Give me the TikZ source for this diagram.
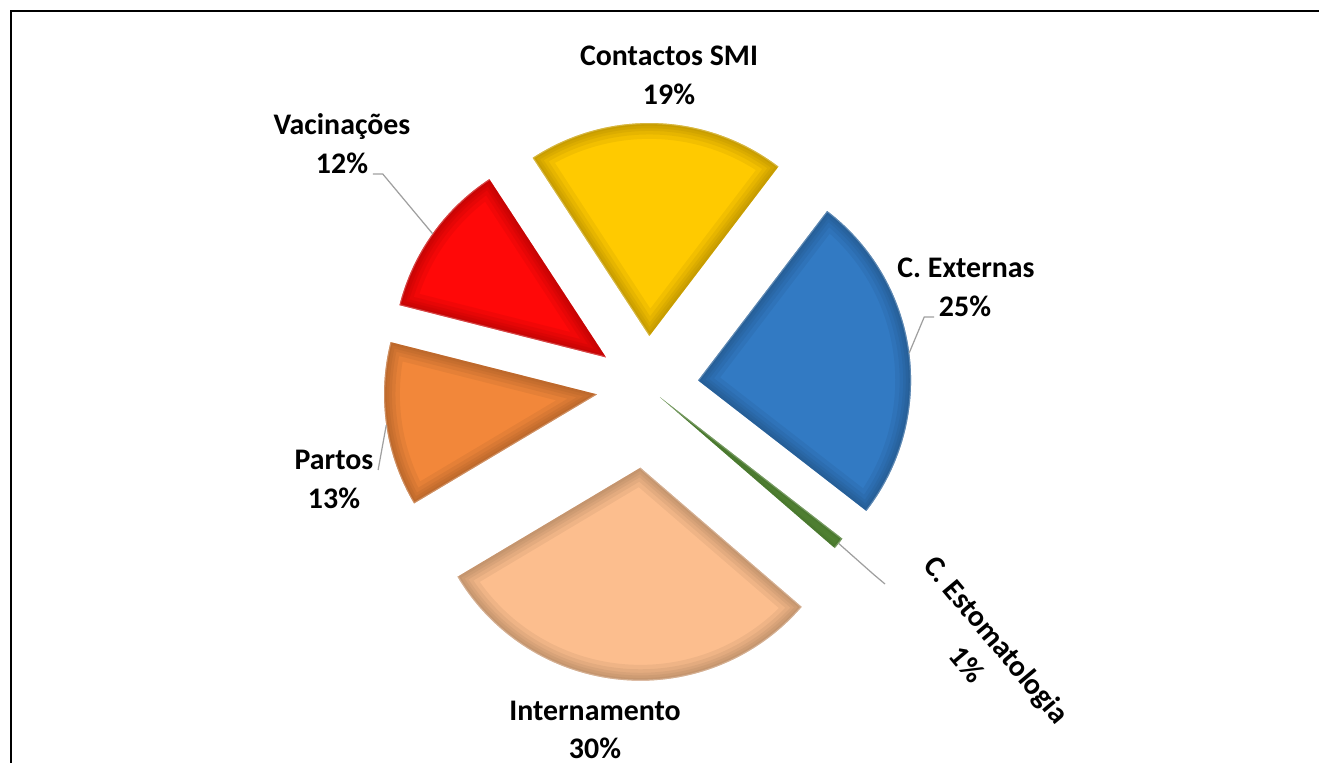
\documentclass[tikz,border=0pt]{standalone}
\usepackage{fontspec}
\setmainfont{Carlito}
\definecolor{extblue}{RGB}{50,122,195}
\definecolor{estgreen}{RGB}{96,155,62}
\definecolor{intpeach}{RGB}{252,190,142}
\definecolor{parorange}{RGB}{242,135,58}
\definecolor{vacred}{RGB}{255,8,8}
\definecolor{smiyellow}{RGB}{255,202,0}

\begin{document}
\begin{tikzpicture}[x=0.02cm, y=0.02cm,
	lbl/.style={font=\bfseries\fontsize{17}{22}\selectfont, anchor=base, inner sep=0pt},
	leader/.style={draw=gray!75, line width=0.7pt},
	frame/.style={line width=1.2pt}]
	\useasboundingbox (0,0) rectangle (1319,-763);
	\draw[frame] (11,-763)--(11,-11)--(1319,-11);
	\coordinate (ctr) at (647.5,-387);
	% slices: name/start/end/explode/radius/colour
	\foreach \n/\a/\b/\e/\r/\c in {ext/52.7/-37.8/51/213/extblue, est/-37.8/-40.8/16/231/estgreen,
		int/-40.8/-149.2/81/213/intpeach, par/-149.2/-194.2/51/213/parorange,
		vac/165.8/123.2/51/213/vacred, smi/123.2/52.7/51/213/smiyellow}{
		\path (ctr) ++({(\a+\b)/2}:\e) coordinate (\n-apex);
		\path (\n-apex) ++({(\a+\b)/2}:\r) coordinate (\n-out);
		\fill[\c] (\n-apex) -- ++(\a:\r) arc[start angle=\a, end angle=\b, radius=\r] -- cycle;
		\begin{scope}
			\clip (\n-apex) -- ++(\a:\r) arc[start angle=\a, end angle=\b, radius=\r] -- cycle;
			% soft bevel
			\foreach \w in {18,13,9,6,3}
				\draw[\c!50!black, opacity=.1, line width=\w pt, line join=round] (\n-apex) -- ++(\a:\r) arc[start angle=\a, end angle=\b, radius=\r] -- cycle;
			\draw[white, opacity=.25, line width=1.2pt, shift={(-4,4)}] (\n-apex) -- ++(\a:\r) arc[start angle=\a, end angle=\b, radius=\r];
		\end{scope}
	}
	% labels
	\node[lbl] (smi-name) at (669,-66) {Contactos SMI};
	\node[lbl] (smi-pct) at (669,-105) {19\%};
	\node[lbl] (vac-name) at (342,-135) {Vacinações};
	\node[lbl] (vac-pct) at (342,-174) {12\%};
	\node[lbl] (ext-name) at (966,-278) {C. Externas};
	\node[lbl] (ext-pct) at (965,-317) {25\%};
	\node[lbl] (par-name) at (334,-470) {Partos};
	\node[lbl] (par-pct) at (334,-508) {13\%};
	\node[lbl] (int-name) at (595,-720) {Internamento};
	\node[lbl] (int-pct) at (595,-758) {30\%};
	\node[lbl, anchor=center, align=center, rotate=-50] (est-lbl) at (982,-652) {C. Estomatologia\\1\%};
	\coordinate (est-pin) at (885,-584);
	% leader lines
	\draw[leader] ([xshift=2.5pt]vac-pct.base east) -- ++(10,0) -- (vac-out);
	\draw[leader] ([xshift=-2.5pt]ext-pct.base west) -- ++(-10,0) -- (ext-out);
	\draw[leader] ([xshift=2.5pt]par-name.base east) -- (par-out);
	\draw[leader] (est-out) -- ++(35,-31) -- (est-pin);
\end{tikzpicture}
\end{document}
